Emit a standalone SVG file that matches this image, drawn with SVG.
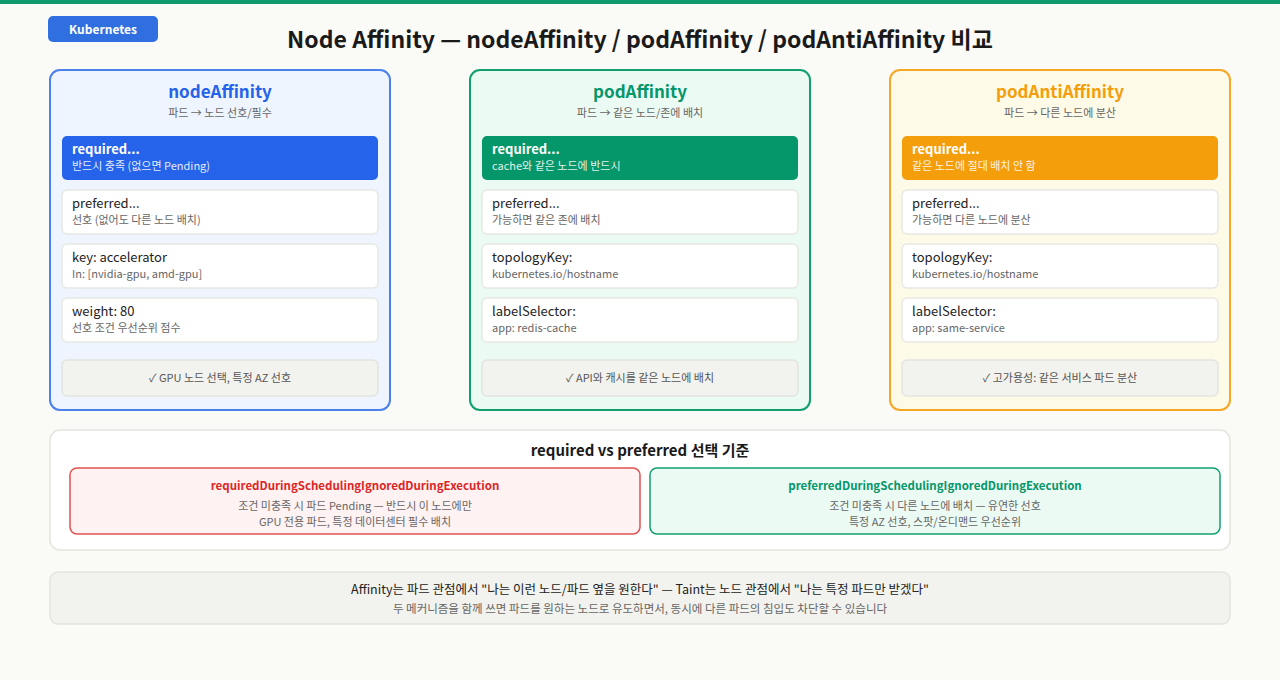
<svg xmlns="http://www.w3.org/2000/svg" width="1280" height="680" viewBox="0 0 1280 680">
<style>
text{font-family:"Noto Sans CJK KR","Noto Sans",sans-serif}
.ct{font-size:17px;font-weight:700;text-anchor:middle}
.cs{font-size:11px;fill:#666;text-anchor:middle}
.item{fill:#fff;stroke:#e8e8e4;stroke-width:1.5}
.l1{font-size:13px;fill:#222}
.l2{font-size:11px;fill:#666}
.h1{font-size:13px;fill:#fff;font-weight:700}
.h2{font-size:11px;fill:#fff;opacity:.88}
.foot{fill:#f2f2ee;stroke:#e4e4e0;stroke-width:1.5}
.ft{font-size:11px;fill:#555;text-anchor:middle}
.mid{text-anchor:middle}
</style>
<rect width="1280" height="680" fill="#fafaf7"/>
<rect width="1280" height="4" fill="#0e9a6e"/>
<rect x="48" y="16" width="110" height="26" rx="5" fill="#2f6fe0"/>
<text x="103" y="33.5" class="mid" font-size="12" font-weight="700" fill="#fff">Kubernetes</text>
<text x="640" y="48" class="mid" font-size="23" font-weight="700" fill="#1a1a1a">Node Affinity — nodeAffinity / podAffinity / podAntiAffinity 비교</text>

<g id="nodeAffinity">
<rect x="50" y="70" width="340" height="340" rx="10" fill="#eef5ff" stroke="#4a80ea" stroke-width="2"/>
<text x="220" y="98" class="ct" fill="#2563eb">nodeAffinity</text>
<text x="220" y="117" class="cs">파드 → 노드 선호/필수</text>
<rect x="62" y="136" width="316" height="44" rx="5" fill="#2563eb"/>
<text x="72" y="154" class="h1">required...</text><text x="72" y="170" class="h2">반드시 충족 (없으면 Pending)</text>
<rect x="62" y="190" width="316" height="44" rx="5" class="item"/>
<text x="72" y="208" class="l1">preferred...</text><text x="72" y="224" class="l2">선호 (없어도 다른 노드 배치)</text>
<rect x="62" y="244" width="316" height="44" rx="5" class="item"/>
<text x="72" y="262" class="l1">key: accelerator</text><text x="72" y="278" class="l2">In: [nvidia-gpu, amd-gpu]</text>
<rect x="62" y="298" width="316" height="44" rx="5" class="item"/>
<text x="72" y="316" class="l1">weight: 80</text><text x="72" y="332" class="l2">선호 조건 우선순위 점수</text>
<rect x="62" y="360" width="316" height="36" rx="5" class="foot"/>
<text x="220" y="382" class="ft">✓ GPU 노드 선택, 특정 AZ 선호</text>
</g>

<g id="podAffinity">
<rect x="470" y="70" width="340" height="340" rx="10" fill="#ebfaf3" stroke="#10a070" stroke-width="2"/>
<text x="640" y="98" class="ct" fill="#059669">podAffinity</text>
<text x="640" y="117" class="cs">파드 → 같은 노드/존에 배치</text>
<rect x="482" y="136" width="316" height="44" rx="5" fill="#059669"/>
<text x="492" y="154" class="h1">required...</text><text x="492" y="170" class="h2">cache와 같은 노드에 반드시</text>
<rect x="482" y="190" width="316" height="44" rx="5" class="item"/>
<text x="492" y="208" class="l1">preferred...</text><text x="492" y="224" class="l2">가능하면 같은 존에 배치</text>
<rect x="482" y="244" width="316" height="44" rx="5" class="item"/>
<text x="492" y="262" class="l1">topologyKey:</text><text x="492" y="278" class="l2">kubernetes.io/hostname</text>
<rect x="482" y="298" width="316" height="44" rx="5" class="item"/>
<text x="492" y="316" class="l1">labelSelector:</text><text x="492" y="332" class="l2">app: redis-cache</text>
<rect x="482" y="360" width="316" height="36" rx="5" class="foot"/>
<text x="640" y="382" class="ft">✓ API와 캐시를 같은 노드에 배치</text>
</g>

<g id="podAntiAffinity">
<rect x="890" y="70" width="340" height="340" rx="10" fill="#fefae8" stroke="#f5a623" stroke-width="2"/>
<text x="1060" y="98" class="ct" fill="#f59e0b">podAntiAffinity</text>
<text x="1060" y="117" class="cs">파드 → 다른 노드에 분산</text>
<rect x="902" y="136" width="316" height="44" rx="5" fill="#f59e0b"/>
<text x="912" y="154" class="h1">required...</text><text x="912" y="170" class="h2">같은 노드에 절대 배치 안 함</text>
<rect x="902" y="190" width="316" height="44" rx="5" class="item"/>
<text x="912" y="208" class="l1">preferred...</text><text x="912" y="224" class="l2">가능하면 다른 노드에 분산</text>
<rect x="902" y="244" width="316" height="44" rx="5" class="item"/>
<text x="912" y="262" class="l1">topologyKey:</text><text x="912" y="278" class="l2">kubernetes.io/hostname</text>
<rect x="902" y="298" width="316" height="44" rx="5" class="item"/>
<text x="912" y="316" class="l1">labelSelector:</text><text x="912" y="332" class="l2">app: same-service</text>
<rect x="902" y="360" width="316" height="36" rx="5" class="foot"/>
<text x="1060" y="382" class="ft">✓ 고가용성: 같은 서비스 파드 분산</text>
</g>

<g id="compare">
<rect x="50" y="430" width="1180" height="120" rx="10" fill="#fff" stroke="#e4e4e0" stroke-width="1.5"/>
<text x="640" y="456" class="mid" font-size="15" font-weight="700" fill="#1a1a1a">required vs preferred 선택 기준</text>
<rect x="70" y="468" width="570" height="66" rx="7" fill="#fef2f2" stroke="#e05252" stroke-width="1.5"/>
<text x="355" y="490" class="mid" font-size="11.5" font-weight="700" fill="#dc2626">requiredDuringSchedulingIgnoredDuringExecution</text>
<text x="355" y="510" class="mid" font-size="11" fill="#666">조건 미충족 시 파드 Pending — 반드시 이 노드에만</text>
<text x="355" y="526" class="mid" font-size="11" fill="#666">GPU 전용 파드, 특정 데이터센터 필수 배치</text>
<rect x="650" y="468" width="570" height="66" rx="7" fill="#ecfaf4" stroke="#10a070" stroke-width="1.5"/>
<text x="935" y="490" class="mid" font-size="11.5" font-weight="700" fill="#059669">preferredDuringSchedulingIgnoredDuringExecution</text>
<text x="935" y="510" class="mid" font-size="11" fill="#666">조건 미충족 시 다른 노드에 배치 — 유연한 선호</text>
<text x="935" y="526" class="mid" font-size="11" fill="#666">특정 AZ 선호, 스팟/온디맨드 우선순위</text>
</g>

<g id="note">
<rect x="50" y="572" width="1180" height="52" rx="8" fill="#f2f2ee" stroke="#e4e4e0" stroke-width="1.5"/>
<text x="640" y="594" class="mid" font-size="12.5" fill="#222">Affinity는 파드 관점에서 "나는 이런 노드/파드 옆을 원한다" — Taint는 노드 관점에서 "나는 특정 파드만 받겠다"</text>
<text x="640" y="613" class="mid" font-size="11.5" fill="#666">두 메커니즘을 함께 쓰면 파드를 원하는 노드로 유도하면서, 동시에 다른 파드의 침입도 차단할 수 있습니다</text>
</g>
<g id="connectors"/>
</svg>
